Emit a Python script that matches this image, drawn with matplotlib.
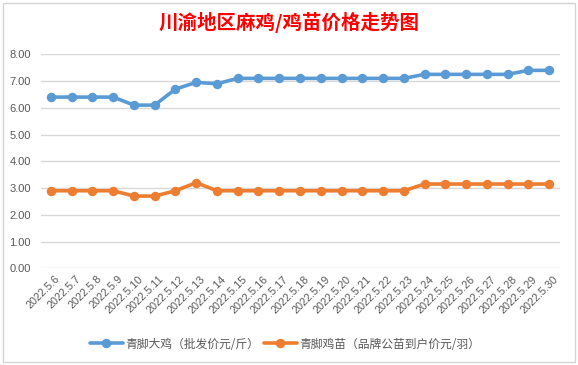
import matplotlib
matplotlib.use("Agg")
import matplotlib.pyplot as plt
from matplotlib.patches import Rectangle

dates = ["2022.5.6", "2022.5.7", "2022.5.8", "2022.5.9", "2022.5.10", "2022.5.11",
         "2022.5.12", "2022.5.13", "2022.5.14", "2022.5.15", "2022.5.16", "2022.5.17",
         "2022.5.18", "2022.5.19", "2022.5.20", "2022.5.21", "2022.5.22", "2022.5.23",
         "2022.5.24", "2022.5.25", "2022.5.26", "2022.5.27", "2022.5.28", "2022.5.29",
         "2022.5.30"]
big_chicken = [6.4, 6.4, 6.4, 6.4, 6.1, 6.1, 6.7, 6.95, 6.9, 7.1, 7.1, 7.1, 7.1, 7.1,
               7.1, 7.1, 7.1, 7.1, 7.25, 7.25, 7.25, 7.25, 7.25, 7.4, 7.4]
chick = [2.9, 2.9, 2.9, 2.9, 2.7, 2.7, 2.9, 3.2, 2.9, 2.9, 2.9, 2.9, 2.9, 2.9,
         2.9, 2.9, 2.9, 2.9, 3.15, 3.15, 3.15, 3.15, 3.15, 3.15, 3.15]
yticks = [0, 1, 2, 3, 4, 5, 6, 7, 8]
series_names = ["青脚大鸡（批发价元/斤）", "青脚鸡苗（品牌公苗到户价元/羽）"]
title = "川渝地区麻鸡/鸡苗价格走势图"

plt.rcParams['font.family'] = ['Noto Sans CJK SC', 'DejaVu Sans']

W, H = 578, 365
fig = plt.figure(figsize=(W / 100, H / 100), dpi=100)

# spreadsheet-like border around the chart
fig.patches.append(Rectangle((3 / W, 1 - 362 / H), 572 / W, 359 / H, transform=fig.transFigure,
                             fill=False, edgecolor="#D4D4D4", linewidth=1))

left, right = 40.5, 559.5
top, bottom = 54.3, 268.3
ax = fig.add_axes([left / W, 1 - bottom / H, (right - left) / W, (bottom - top) / H])

x = list(range(len(dates)))
blue = "#5B9BD5"
orange = "#ED7D31"
ax.plot(x, big_chicken, color=blue, lw=2.6, marker="o", ms=5.8, label=series_names[0],
        solid_capstyle="round", zorder=3)
ax.plot(x, chick, color=orange, lw=2.6, marker="o", ms=5.8, label=series_names[1],
        solid_capstyle="round", zorder=3)

ax.set_xlim(-0.5, len(dates) - 0.5)
ax.set_ylim(0, 8)
ax.set_yticks(yticks)
ax.set_yticklabels([f"{v:.2f}" for v in yticks], fontsize=8, color="#595959",
                   family=["Liberation Sans", "DejaVu Sans"])
ax.yaxis.grid(True, color="#D9D9D9", lw=1)
ax.set_axisbelow(True)
for s in ax.spines.values():
    s.set_visible(False)
ax.tick_params(axis="y", length=0, pad=7)
ax.tick_params(axis="x", length=0, pad=4)
ax.set_xticks(x)
ax.set_xticklabels(dates, rotation=45, ha="right", va="top", rotation_mode="anchor",
                   fontsize=7.8, color="#595959", family=["Liberation Sans", "DejaVu Sans"])
for lbl in ax.get_xticklabels():
    lbl.set_transform(lbl.get_transform() + matplotlib.transforms.ScaledTranslation(4 / 100, 0, fig.dpi_scale_trans))

fig.text(289 / W, 1 - 22 / H, title, ha="center", va="center", fontsize=14,
         color="#FF0000", fontweight="bold")

leg = fig.legend(loc="center", bbox_to_anchor=(285 / W, 1 - 344 / H), ncol=2, frameon=False,
                 fontsize=8.5, handlelength=2.8, columnspacing=0.4, handletextpad=0.2,
                 labelcolor="#595959")

fig.savefig("out.png", dpi=100)
